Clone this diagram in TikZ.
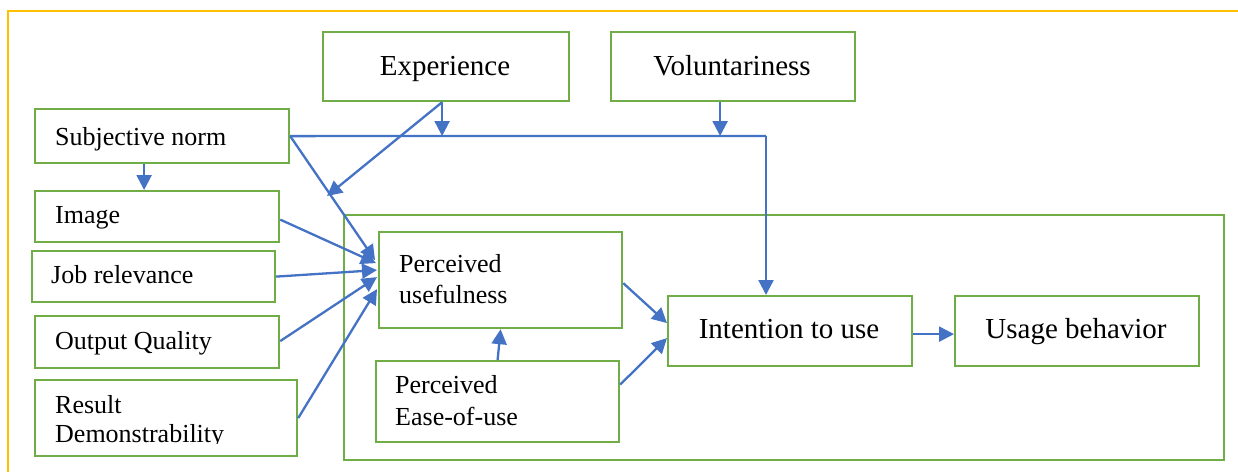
\documentclass[tikz,border=0pt]{standalone}
\usepackage{fontspec}
\setmainfont{Liberation Serif}
\usetikzlibrary{arrows.meta,calc}
\definecolor{boxgreen}{HTML}{70AD47}
\definecolor{linkblue}{HTML}{4472C4}
\definecolor{framegold}{HTML}{FFC000}

\begin{document}
\begin{tikzpicture}[x=1pt,y=-1pt,
  box/.style={draw=boxgreen,line width=2.2pt,rectangle,anchor=north west,inner sep=0pt},
  big/.style={font=\fontsize{29}{34}\selectfont,inner sep=0pt,anchor=base},
  small/.style={font=\fontsize{26}{31}\selectfont,inner sep=0pt,anchor=base west},
  link/.style={draw=linkblue,line width=2.3pt,-{Triangle[length=15pt,width=15pt]}},
  plain/.style={draw=linkblue,line width=2.3pt}]
\useasboundingbox (0,0) rectangle (1238,472);

% outer frame (open to the right and bottom)
\draw[framegold,line width=2.2pt] (8,472) -- (8,11) -- (1238,11);

% moderators
\node[box,minimum width=246pt,minimum height=69pt] (exp) at (322,31) {};
\node[big] (expt) at (445,75) {Experience};
\node[box,minimum width=244pt,minimum height=69pt] (vol) at (610,31) {};
\node[big] (volt) at (732,75) {Voluntariness};

% external determinants
\node[box,minimum width=254pt,minimum height=54pt] (sn) at (34,108) {};
\node[small] (snt) at (55,145) {Subjective norm};
\node[box,minimum width=244pt,minimum height=51pt] (img) at (34,190) {};
\node[small] (imgt) at (55,223) {Image};
\node[box,minimum width=243pt,minimum height=51pt] (job) at (31,250) {};
\node[small] (jobt) at (51,283) {Job relevance};
\node[box,minimum width=244pt,minimum height=52pt] (out) at (34,315) {};
\node[small] (outt) at (55,349) {Output Quality};
\node[box,minimum width=262pt,minimum height=76pt] (res) at (34,379) {};
\begin{scope}
  \clip (34,379) rectangle (296,443.5);
  \node[small] (rest1) at (55,413) {Result};
  \node[small] (rest2) at (55,442) {Demonstrability};
\end{scope}

% core model
\node[box,minimum width=880pt,minimum height=245pt] (core) at (343,214) {};
\node[box,minimum width=243pt,minimum height=96pt] (pu) at (378,231) {};
\node[small] (put1) at (399,272) {Perceived};
\node[small] (put2) at (399,303) {usefulness};
\node[box,minimum width=243pt,minimum height=81pt] (peou) at (375,360) {};
\node[small] (peout1) at (395,393) {Perceived};
\node[small] (peout2) at (395,425) {Ease-of-use};
\node[box,minimum width=244pt,minimum height=70pt] (it) at (667,295) {};
\node[big] (itt) at (789,338) {Intention to use};
\node[box,minimum width=244pt,minimum height=70pt] (ub) at (954,295) {};
\node[big] (ubt) at (1076,338) {Usage behavior};

% connectors
\coordinate (corner) at (766,136);
\coordinate (expmid) at (327,196);
\draw[plain] (sn.east) -- (corner);
\draw[link] (corner) -- (corner |- it.north);
\draw[link] ([xshift=-4pt]exp.south) -- ([xshift=-4pt]exp.south |- corner);
\draw[link] ([xshift=-13pt]vol.south) -- ([xshift=-13pt]vol.south |- corner);
\draw[link] ([xshift=-4pt]exp.south) -- (expmid);
\draw[link] (sn.east) -- ([xshift=-3pt,yshift=20pt]pu.west);
\draw[link] ([xshift=-18pt]sn.south) -- ([xshift=-18pt]sn.south |- img.north);
\draw[link] ([yshift=-3pt]img.east) -- ([xshift=-2pt,yshift=17pt]pu.west);
\draw[link] (job.east) -- ([xshift=-1pt,yshift=10pt]pu.west);
\draw[link] ([yshift=1pt]out.east) -- ([xshift=-1pt,yshift=3pt]pu.west);
\draw[link] (res.east) -- ([xshift=-1pt,yshift=-9pt]pu.west);
\draw[link] (peou.north) -- (pu.south);
\draw[link] ([yshift=-3pt]pu.east) -- ([yshift=8pt]it.west);
\draw[link] ([yshift=17pt]peou.east) -- ([yshift=-7pt]it.west);
\draw[link] ([yshift=-3pt]it.east) -- ([yshift=-3pt]ub.west);
\end{tikzpicture}
\end{document}
